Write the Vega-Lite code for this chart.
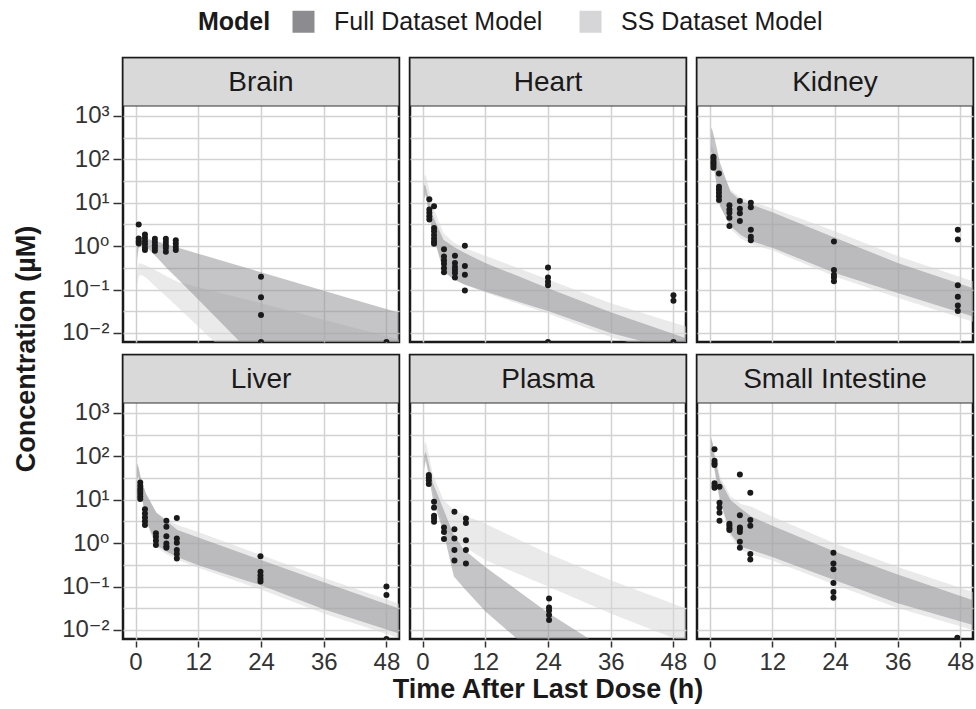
{
  "$schema": "https://vega.github.io/schema/vega-lite/v6.json",
  "padding": {"left": 12, "top": 9, "right": 0, "bottom": 2},
  "background": "white",
  "data": {"values": [
    {"tissue":"Brain","model":"SS Dataset Model","time":0,"lo":1e-5,"hi":1e-5},
    {"tissue":"Brain","model":"SS Dataset Model","time":0.3,"lo":0.12,"hi":0.25},
    {"tissue":"Brain","model":"SS Dataset Model","time":0.6,"lo":0.2,"hi":0.4},
    {"tissue":"Brain","model":"SS Dataset Model","time":1,"lo":0.22,"hi":0.4},
    {"tissue":"Brain","model":"SS Dataset Model","time":2,"lo":0.19,"hi":0.36},
    {"tissue":"Brain","model":"SS Dataset Model","time":4,"lo":0.112,"hi":0.27},
    {"tissue":"Brain","model":"SS Dataset Model","time":6,"lo":0.067,"hi":0.2},
    {"tissue":"Brain","model":"SS Dataset Model","time":8,"lo":0.04,"hi":0.15},
    {"tissue":"Brain","model":"SS Dataset Model","time":12,"lo":0.014,"hi":0.113},
    {"tissue":"Brain","model":"SS Dataset Model","time":24,"lo":0.0006,"hi":0.048},
    {"tissue":"Brain","model":"SS Dataset Model","time":36,"lo":0.00003,"hi":0.02},
    {"tissue":"Brain","model":"SS Dataset Model","time":50.4,"lo":0.000001,"hi":0.007},
    {"tissue":"Brain","model":"Full Dataset Model","time":0,"lo":1e-5,"hi":1e-5},
    {"tissue":"Brain","model":"Full Dataset Model","time":0.3,"lo":0.5,"hi":1.2},
    {"tissue":"Brain","model":"Full Dataset Model","time":0.6,"lo":0.9,"hi":1.6},
    {"tissue":"Brain","model":"Full Dataset Model","time":1,"lo":1.0,"hi":1.6},
    {"tissue":"Brain","model":"Full Dataset Model","time":2,"lo":0.98,"hi":1.5},
    {"tissue":"Brain","model":"Full Dataset Model","time":4,"lo":0.56,"hi":1.29},
    {"tissue":"Brain","model":"Full Dataset Model","time":6,"lo":0.31,"hi":1.09},
    {"tissue":"Brain","model":"Full Dataset Model","time":8,"lo":0.18,"hi":0.93},
    {"tissue":"Brain","model":"Full Dataset Model","time":12,"lo":0.059,"hi":0.67},
    {"tissue":"Brain","model":"Full Dataset Model","time":24,"lo":0.002,"hi":0.25},
    {"tissue":"Brain","model":"Full Dataset Model","time":36,"lo":0.00006,"hi":0.094},
    {"tissue":"Brain","model":"Full Dataset Model","time":50.4,"lo":0.000001,"hi":0.029},

    {"tissue":"Heart","model":"SS Dataset Model","time":0,"lo":1e-5,"hi":1e-5},
    {"tissue":"Heart","model":"SS Dataset Model","time":0.3,"lo":15,"hi":40},
    {"tissue":"Heart","model":"SS Dataset Model","time":0.6,"lo":18,"hi":44},
    {"tissue":"Heart","model":"SS Dataset Model","time":1,"lo":10,"hi":28},
    {"tissue":"Heart","model":"SS Dataset Model","time":2,"lo":2.2,"hi":8},
    {"tissue":"Heart","model":"SS Dataset Model","time":4,"lo":0.28,"hi":2.0},
    {"tissue":"Heart","model":"SS Dataset Model","time":6,"lo":0.17,"hi":1.2},
    {"tissue":"Heart","model":"SS Dataset Model","time":8,"lo":0.13,"hi":0.9},
    {"tissue":"Heart","model":"SS Dataset Model","time":12,"lo":0.085,"hi":0.6},
    {"tissue":"Heart","model":"SS Dataset Model","time":24,"lo":0.028,"hi":0.17},
    {"tissue":"Heart","model":"SS Dataset Model","time":36,"lo":0.008,"hi":0.048},
    {"tissue":"Heart","model":"SS Dataset Model","time":50.4,"lo":0.0025,"hi":0.014},
    {"tissue":"Heart","model":"Full Dataset Model","time":0,"lo":1e-5,"hi":1e-5},
    {"tissue":"Heart","model":"Full Dataset Model","time":0.3,"lo":12,"hi":26},
    {"tissue":"Heart","model":"Full Dataset Model","time":0.6,"lo":15,"hi":24},
    {"tissue":"Heart","model":"Full Dataset Model","time":1,"lo":8,"hi":15},
    {"tissue":"Heart","model":"Full Dataset Model","time":2,"lo":1.8,"hi":4.9},
    {"tissue":"Heart","model":"Full Dataset Model","time":4,"lo":0.26,"hi":1.4},
    {"tissue":"Heart","model":"Full Dataset Model","time":6,"lo":0.17,"hi":0.95},
    {"tissue":"Heart","model":"Full Dataset Model","time":8,"lo":0.13,"hi":0.7},
    {"tissue":"Heart","model":"Full Dataset Model","time":12,"lo":0.09,"hi":0.41},
    {"tissue":"Heart","model":"Full Dataset Model","time":24,"lo":0.032,"hi":0.107},
    {"tissue":"Heart","model":"Full Dataset Model","time":36,"lo":0.01,"hi":0.03},
    {"tissue":"Heart","model":"Full Dataset Model","time":50.4,"lo":0.0035,"hi":0.0075},

    {"tissue":"Kidney","model":"SS Dataset Model","time":0,"lo":1e-5,"hi":1e-5},
    {"tissue":"Kidney","model":"SS Dataset Model","time":0.3,"lo":80,"hi":200},
    {"tissue":"Kidney","model":"SS Dataset Model","time":0.6,"lo":90,"hi":190},
    {"tissue":"Kidney","model":"SS Dataset Model","time":1,"lo":50,"hi":140},
    {"tissue":"Kidney","model":"SS Dataset Model","time":2,"lo":9,"hi":60},
    {"tissue":"Kidney","model":"SS Dataset Model","time":4,"lo":2.5,"hi":20},
    {"tissue":"Kidney","model":"SS Dataset Model","time":6,"lo":1.5,"hi":13},
    {"tissue":"Kidney","model":"SS Dataset Model","time":8,"lo":1.1,"hi":10.5},
    {"tissue":"Kidney","model":"SS Dataset Model","time":12,"lo":0.8,"hi":7.5},
    {"tissue":"Kidney","model":"SS Dataset Model","time":24,"lo":0.2,"hi":2.2},
    {"tissue":"Kidney","model":"SS Dataset Model","time":36,"lo":0.065,"hi":0.59},
    {"tissue":"Kidney","model":"SS Dataset Model","time":50.4,"lo":0.018,"hi":0.155},
    {"tissue":"Kidney","model":"Full Dataset Model","time":0,"lo":1e-5,"hi":1e-5},
    {"tissue":"Kidney","model":"Full Dataset Model","time":0.3,"lo":150,"hi":540},
    {"tissue":"Kidney","model":"Full Dataset Model","time":0.6,"lo":120,"hi":450},
    {"tissue":"Kidney","model":"Full Dataset Model","time":1,"lo":49,"hi":290},
    {"tissue":"Kidney","model":"Full Dataset Model","time":2,"lo":8.3,"hi":84},
    {"tissue":"Kidney","model":"Full Dataset Model","time":4,"lo":2.9,"hi":18},
    {"tissue":"Kidney","model":"Full Dataset Model","time":6,"lo":1.8,"hi":11},
    {"tissue":"Kidney","model":"Full Dataset Model","time":8,"lo":1.3,"hi":9.1},
    {"tissue":"Kidney","model":"Full Dataset Model","time":12,"lo":0.92,"hi":6.0},
    {"tissue":"Kidney","model":"Full Dataset Model","time":24,"lo":0.24,"hi":1.55},
    {"tissue":"Kidney","model":"Full Dataset Model","time":36,"lo":0.083,"hi":0.41},
    {"tissue":"Kidney","model":"Full Dataset Model","time":50.4,"lo":0.024,"hi":0.107},

    {"tissue":"Liver","model":"SS Dataset Model","time":0,"lo":1e-5,"hi":1e-5},
    {"tissue":"Liver","model":"SS Dataset Model","time":0.3,"lo":25,"hi":60},
    {"tissue":"Liver","model":"SS Dataset Model","time":0.6,"lo":30,"hi":50},
    {"tissue":"Liver","model":"SS Dataset Model","time":1,"lo":15,"hi":30},
    {"tissue":"Liver","model":"SS Dataset Model","time":2,"lo":3.0,"hi":13},
    {"tissue":"Liver","model":"SS Dataset Model","time":4,"lo":0.8,"hi":5.0},
    {"tissue":"Liver","model":"SS Dataset Model","time":6,"lo":0.55,"hi":3.5},
    {"tissue":"Liver","model":"SS Dataset Model","time":8,"lo":0.42,"hi":2.6},
    {"tissue":"Liver","model":"SS Dataset Model","time":12,"lo":0.27,"hi":1.8},
    {"tissue":"Liver","model":"SS Dataset Model","time":24,"lo":0.085,"hi":0.53},
    {"tissue":"Liver","model":"SS Dataset Model","time":36,"lo":0.024,"hi":0.16},
    {"tissue":"Liver","model":"SS Dataset Model","time":50.4,"lo":0.0065,"hi":0.04},
    {"tissue":"Liver","model":"Full Dataset Model","time":0,"lo":1e-5,"hi":1e-5},
    {"tissue":"Liver","model":"Full Dataset Model","time":0.3,"lo":30,"hi":69},
    {"tissue":"Liver","model":"Full Dataset Model","time":0.6,"lo":35,"hi":55},
    {"tissue":"Liver","model":"Full Dataset Model","time":1,"lo":17,"hi":32},
    {"tissue":"Liver","model":"Full Dataset Model","time":2,"lo":3.4,"hi":14},
    {"tissue":"Liver","model":"Full Dataset Model","time":4,"lo":0.9,"hi":5.0},
    {"tissue":"Liver","model":"Full Dataset Model","time":6,"lo":0.63,"hi":3.2},
    {"tissue":"Liver","model":"Full Dataset Model","time":8,"lo":0.48,"hi":2.0},
    {"tissue":"Liver","model":"Full Dataset Model","time":12,"lo":0.31,"hi":1.35},
    {"tissue":"Liver","model":"Full Dataset Model","time":24,"lo":0.107,"hi":0.41},
    {"tissue":"Liver","model":"Full Dataset Model","time":36,"lo":0.03,"hi":0.126},
    {"tissue":"Liver","model":"Full Dataset Model","time":50.4,"lo":0.0083,"hi":0.031},

    {"tissue":"Plasma","model":"SS Dataset Model","time":0,"lo":1e-5,"hi":1e-5},
    {"tissue":"Plasma","model":"SS Dataset Model","time":0.3,"lo":90,"hi":180},
    {"tissue":"Plasma","model":"SS Dataset Model","time":0.6,"lo":110,"hi":218},
    {"tissue":"Plasma","model":"SS Dataset Model","time":1,"lo":60,"hi":140},
    {"tissue":"Plasma","model":"SS Dataset Model","time":2,"lo":15,"hi":37},
    {"tissue":"Plasma","model":"SS Dataset Model","time":4,"lo":2.4,"hi":9.8},
    {"tissue":"Plasma","model":"SS Dataset Model","time":6,"lo":1.2,"hi":5.8},
    {"tissue":"Plasma","model":"SS Dataset Model","time":8,"lo":0.82,"hi":4.4},
    {"tissue":"Plasma","model":"SS Dataset Model","time":12,"lo":0.41,"hi":2.8},
    {"tissue":"Plasma","model":"SS Dataset Model","time":24,"lo":0.1,"hi":0.58},
    {"tissue":"Plasma","model":"SS Dataset Model","time":36,"lo":0.024,"hi":0.14},
    {"tissue":"Plasma","model":"SS Dataset Model","time":50.4,"lo":0.005,"hi":0.031},
    {"tissue":"Plasma","model":"Full Dataset Model","time":0,"lo":1e-5,"hi":1e-5},
    {"tissue":"Plasma","model":"Full Dataset Model","time":0.3,"lo":50,"hi":100},
    {"tissue":"Plasma","model":"Full Dataset Model","time":0.6,"lo":80,"hi":128},
    {"tissue":"Plasma","model":"Full Dataset Model","time":1,"lo":48,"hi":83},
    {"tissue":"Plasma","model":"Full Dataset Model","time":2,"lo":9.8,"hi":24},
    {"tissue":"Plasma","model":"Full Dataset Model","time":4,"lo":1.8,"hi":6},
    {"tissue":"Plasma","model":"Full Dataset Model","time":6,"lo":0.17,"hi":1.5},
    {"tissue":"Plasma","model":"Full Dataset Model","time":8,"lo":0.09,"hi":0.69},
    {"tissue":"Plasma","model":"Full Dataset Model","time":12,"lo":0.027,"hi":0.28},
    {"tissue":"Plasma","model":"Full Dataset Model","time":24,"lo":0.0015,"hi":0.025},
    {"tissue":"Plasma","model":"Full Dataset Model","time":36,"lo":0.0001,"hi":0.003},
    {"tissue":"Plasma","model":"Full Dataset Model","time":50.4,"lo":0.00001,"hi":0.0002},

    {"tissue":"Small Intestine","model":"SS Dataset Model","time":0,"lo":1e-5,"hi":1e-5},
    {"tissue":"Small Intestine","model":"SS Dataset Model","time":0.3,"lo":90,"hi":250},
    {"tissue":"Small Intestine","model":"SS Dataset Model","time":0.6,"lo":80,"hi":200},
    {"tissue":"Small Intestine","model":"SS Dataset Model","time":1,"lo":40,"hi":110},
    {"tissue":"Small Intestine","model":"SS Dataset Model","time":2,"lo":8,"hi":35},
    {"tissue":"Small Intestine","model":"SS Dataset Model","time":4,"lo":1.4,"hi":12},
    {"tissue":"Small Intestine","model":"SS Dataset Model","time":6,"lo":0.7,"hi":8},
    {"tissue":"Small Intestine","model":"SS Dataset Model","time":8,"lo":0.55,"hi":6.9},
    {"tissue":"Small Intestine","model":"SS Dataset Model","time":12,"lo":0.4,"hi":4.1},
    {"tissue":"Small Intestine","model":"SS Dataset Model","time":24,"lo":0.11,"hi":0.98},
    {"tissue":"Small Intestine","model":"SS Dataset Model","time":36,"lo":0.032,"hi":0.28},
    {"tissue":"Small Intestine","model":"SS Dataset Model","time":50.4,"lo":0.01,"hi":0.075},
    {"tissue":"Small Intestine","model":"Full Dataset Model","time":0,"lo":1e-5,"hi":1e-5},
    {"tissue":"Small Intestine","model":"Full Dataset Model","time":0.3,"lo":100,"hi":280},
    {"tissue":"Small Intestine","model":"Full Dataset Model","time":0.6,"lo":90,"hi":200},
    {"tissue":"Small Intestine","model":"Full Dataset Model","time":1,"lo":48,"hi":98},
    {"tissue":"Small Intestine","model":"Full Dataset Model","time":2,"lo":9.8,"hi":28},
    {"tissue":"Small Intestine","model":"Full Dataset Model","time":4,"lo":1.67,"hi":9.8},
    {"tissue":"Small Intestine","model":"Full Dataset Model","time":6,"lo":0.83,"hi":6.3},
    {"tissue":"Small Intestine","model":"Full Dataset Model","time":8,"lo":0.69,"hi":4.1},
    {"tissue":"Small Intestine","model":"Full Dataset Model","time":12,"lo":0.48,"hi":2.5},
    {"tissue":"Small Intestine","model":"Full Dataset Model","time":24,"lo":0.14,"hi":0.63},
    {"tissue":"Small Intestine","model":"Full Dataset Model","time":36,"lo":0.041,"hi":0.19},
    {"tissue":"Small Intestine","model":"Full Dataset Model","time":50.4,"lo":0.013,"hi":0.048},

    {"tissue":"Brain","time":0.6,"conc":3.16},{"tissue":"Brain","time":0.6,"conc":1.5},{"tissue":"Brain","time":0.6,"conc":1.3},{"tissue":"Brain","time":0.6,"conc":1.15},
    {"tissue":"Brain","time":1.8,"conc":1.86},{"tissue":"Brain","time":1.8,"conc":1.55},{"tissue":"Brain","time":1.8,"conc":1.3},{"tissue":"Brain","time":1.8,"conc":1.1},{"tissue":"Brain","time":1.8,"conc":0.92},{"tissue":"Brain","time":1.8,"conc":0.81},
    {"tissue":"Brain","time":3.7,"conc":1.48},{"tissue":"Brain","time":3.7,"conc":1.25},{"tissue":"Brain","time":3.7,"conc":1.05},{"tissue":"Brain","time":3.7,"conc":0.9},{"tissue":"Brain","time":3.7,"conc":0.78},
    {"tissue":"Brain","time":5.8,"conc":1.48},{"tissue":"Brain","time":5.8,"conc":1.25},{"tissue":"Brain","time":5.8,"conc":1.05},{"tissue":"Brain","time":5.8,"conc":0.9},{"tissue":"Brain","time":5.8,"conc":0.74},
    {"tissue":"Brain","time":7.7,"conc":1.37},{"tissue":"Brain","time":7.7,"conc":1.15},{"tissue":"Brain","time":7.7,"conc":0.97},{"tissue":"Brain","time":7.7,"conc":0.81},
    {"tissue":"Brain","time":24,"conc":0.196},{"tissue":"Brain","time":24,"conc":0.066},{"tissue":"Brain","time":24,"conc":0.026},{"tissue":"Brain","time":24,"conc":0.0062},
    {"tissue":"Brain","time":48,"conc":0.0062},

    {"tissue":"Heart","time":1.3,"conc":12},{"tissue":"Heart","time":1.3,"conc":7.0},{"tissue":"Heart","time":1.3,"conc":5.9},{"tissue":"Heart","time":1.3,"conc":4.9},{"tissue":"Heart","time":1.3,"conc":4.1},
    {"tissue":"Heart","time":2.2,"conc":8.3},{"tissue":"Heart","time":2.2,"conc":2.6},{"tissue":"Heart","time":2.2,"conc":2.2},{"tissue":"Heart","time":2.2,"conc":1.8},{"tissue":"Heart","time":2.2,"conc":1.5},{"tissue":"Heart","time":2.2,"conc":1.28},{"tissue":"Heart","time":2.2,"conc":1.13},
    {"tissue":"Heart","time":4.1,"conc":0.85},{"tissue":"Heart","time":4.1,"conc":0.58},{"tissue":"Heart","time":4.1,"conc":0.47},{"tissue":"Heart","time":4.1,"conc":0.39},{"tissue":"Heart","time":4.1,"conc":0.31},{"tissue":"Heart","time":4.1,"conc":0.25},
    {"tissue":"Heart","time":6.2,"conc":0.6},{"tissue":"Heart","time":6.2,"conc":0.41},{"tissue":"Heart","time":6.2,"conc":0.33},{"tissue":"Heart","time":6.2,"conc":0.28},{"tissue":"Heart","time":6.2,"conc":0.24},{"tissue":"Heart","time":6.2,"conc":0.19},
    {"tissue":"Heart","time":8.1,"conc":1.02},{"tissue":"Heart","time":8.1,"conc":0.35},{"tissue":"Heart","time":8.1,"conc":0.22},{"tissue":"Heart","time":8.1,"conc":0.095},
    {"tissue":"Heart","time":24,"conc":0.32},{"tissue":"Heart","time":24,"conc":0.19},{"tissue":"Heart","time":24,"conc":0.15},{"tissue":"Heart","time":24,"conc":0.125},{"tissue":"Heart","time":24,"conc":0.0062},
    {"tissue":"Heart","time":48,"conc":0.074},{"tissue":"Heart","time":48,"conc":0.055},{"tissue":"Heart","time":48,"conc":0.0062},

    {"tissue":"Kidney","time":0.75,"conc":115},{"tissue":"Kidney","time":0.75,"conc":104},{"tissue":"Kidney","time":0.75,"conc":91},{"tissue":"Kidney","time":0.75,"conc":81},{"tissue":"Kidney","time":0.75,"conc":72},{"tissue":"Kidney","time":0.75,"conc":64},
    {"tissue":"Kidney","time":1.8,"conc":47},{"tissue":"Kidney","time":1.8,"conc":23.4},{"tissue":"Kidney","time":1.8,"conc":20.3},{"tissue":"Kidney","time":1.8,"conc":17},{"tissue":"Kidney","time":1.8,"conc":14.2},{"tissue":"Kidney","time":1.8,"conc":11.5},
    {"tissue":"Kidney","time":3.8,"conc":8.7},{"tissue":"Kidney","time":3.8,"conc":7.0},{"tissue":"Kidney","time":3.8,"conc":5.9},{"tissue":"Kidney","time":3.8,"conc":4.5},{"tissue":"Kidney","time":3.8,"conc":2.9},
    {"tissue":"Kidney","time":5.8,"conc":11},{"tissue":"Kidney","time":5.8,"conc":7.3},{"tissue":"Kidney","time":5.8,"conc":5.7},{"tissue":"Kidney","time":5.8,"conc":3.8},
    {"tissue":"Kidney","time":7.9,"conc":10},{"tissue":"Kidney","time":7.9,"conc":7.9},{"tissue":"Kidney","time":7.9,"conc":2.4},{"tissue":"Kidney","time":7.9,"conc":1.64},{"tissue":"Kidney","time":7.9,"conc":1.37},
    {"tissue":"Kidney","time":23.8,"conc":1.28},{"tissue":"Kidney","time":23.8,"conc":0.28},{"tissue":"Kidney","time":23.8,"conc":0.22},{"tissue":"Kidney","time":23.8,"conc":0.19},{"tissue":"Kidney","time":23.8,"conc":0.155},
    {"tissue":"Kidney","time":47.5,"conc":2.4},{"tissue":"Kidney","time":47.5,"conc":1.42},{"tissue":"Kidney","time":47.5,"conc":0.126},{"tissue":"Kidney","time":47.5,"conc":0.068},{"tissue":"Kidney","time":47.5,"conc":0.043},{"tissue":"Kidney","time":47.5,"conc":0.032},

    {"tissue":"Liver","time":0.9,"conc":25},{"tissue":"Liver","time":0.9,"conc":21},{"tissue":"Liver","time":0.9,"conc":18},{"tissue":"Liver","time":0.9,"conc":16},{"tissue":"Liver","time":0.9,"conc":14},{"tissue":"Liver","time":0.9,"conc":12},{"tissue":"Liver","time":0.9,"conc":10.4},
    {"tissue":"Liver","time":1.8,"conc":6.0},{"tissue":"Liver","time":1.8,"conc":4.8},{"tissue":"Liver","time":1.8,"conc":3.9},{"tissue":"Liver","time":1.8,"conc":3.2},{"tissue":"Liver","time":1.8,"conc":2.6},
    {"tissue":"Liver","time":3.9,"conc":1.7},{"tissue":"Liver","time":3.9,"conc":1.4},{"tissue":"Liver","time":3.9,"conc":1.13},{"tissue":"Liver","time":3.9,"conc":0.9},
    {"tissue":"Liver","time":5.9,"conc":3.3},{"tissue":"Liver","time":5.9,"conc":2.4},{"tissue":"Liver","time":5.9,"conc":1.45},{"tissue":"Liver","time":5.9,"conc":0.98},{"tissue":"Liver","time":5.9,"conc":0.85},{"tissue":"Liver","time":5.9,"conc":0.78},
    {"tissue":"Liver","time":7.9,"conc":3.8},{"tissue":"Liver","time":7.9,"conc":1.28},{"tissue":"Liver","time":7.9,"conc":1.02},{"tissue":"Liver","time":7.9,"conc":0.69},{"tissue":"Liver","time":7.9,"conc":0.56},{"tissue":"Liver","time":7.9,"conc":0.44},
    {"tissue":"Liver","time":23.9,"conc":0.5},{"tissue":"Liver","time":23.9,"conc":0.22},{"tissue":"Liver","time":23.9,"conc":0.18},{"tissue":"Liver","time":23.9,"conc":0.15},{"tissue":"Liver","time":23.9,"conc":0.13},
    {"tissue":"Liver","time":48,"conc":0.1},{"tissue":"Liver","time":48,"conc":0.064},{"tissue":"Liver","time":48,"conc":0.0062},

    {"tissue":"Plasma","time":1.2,"conc":37},{"tissue":"Plasma","time":1.2,"conc":33},{"tissue":"Plasma","time":1.2,"conc":28},{"tissue":"Plasma","time":1.2,"conc":23},
    {"tissue":"Plasma","time":2.2,"conc":9.0},{"tissue":"Plasma","time":2.2,"conc":6.6},{"tissue":"Plasma","time":2.2,"conc":4.3},{"tissue":"Plasma","time":2.2,"conc":3.7},{"tissue":"Plasma","time":2.2,"conc":3.1},
    {"tissue":"Plasma","time":4.1,"conc":2.3},{"tissue":"Plasma","time":4.1,"conc":1.8},{"tissue":"Plasma","time":4.1,"conc":1.24},
    {"tissue":"Plasma","time":6.1,"conc":5.3},{"tissue":"Plasma","time":6.1,"conc":2.1},{"tissue":"Plasma","time":6.1,"conc":1.28},{"tissue":"Plasma","time":6.1,"conc":0.69},{"tissue":"Plasma","time":6.1,"conc":0.4},
    {"tissue":"Plasma","time":8.3,"conc":3.7},{"tissue":"Plasma","time":8.3,"conc":2.9},{"tissue":"Plasma","time":8.3,"conc":1.17},{"tissue":"Plasma","time":8.3,"conc":0.69},{"tissue":"Plasma","time":8.3,"conc":0.34},
    {"tissue":"Plasma","time":24.2,"conc":0.053},{"tissue":"Plasma","time":24.2,"conc":0.033},{"tissue":"Plasma","time":24.2,"conc":0.028},{"tissue":"Plasma","time":24.2,"conc":0.022},{"tissue":"Plasma","time":24.2,"conc":0.017},

    {"tissue":"Small Intestine","time":0.95,"conc":145},{"tissue":"Small Intestine","time":0.95,"conc":79},{"tissue":"Small Intestine","time":0.95,"conc":69},{"tissue":"Small Intestine","time":0.95,"conc":63},{"tissue":"Small Intestine","time":0.95,"conc":24},{"tissue":"Small Intestine","time":0.95,"conc":21},{"tissue":"Small Intestine","time":0.95,"conc":19},
    {"tissue":"Small Intestine","time":1.9,"conc":20},{"tissue":"Small Intestine","time":1.9,"conc":8.5},{"tissue":"Small Intestine","time":1.9,"conc":6.6},{"tissue":"Small Intestine","time":1.9,"conc":5.0},{"tissue":"Small Intestine","time":1.9,"conc":3.3},
    {"tissue":"Small Intestine","time":3.8,"conc":2.8},{"tissue":"Small Intestine","time":3.8,"conc":2.5},{"tissue":"Small Intestine","time":3.8,"conc":2.2},{"tissue":"Small Intestine","time":3.8,"conc":2.0},
    {"tissue":"Small Intestine","time":5.8,"conc":38},{"tissue":"Small Intestine","time":5.8,"conc":4.4},{"tissue":"Small Intestine","time":5.8,"conc":2.3},{"tissue":"Small Intestine","time":5.8,"conc":2.1},{"tissue":"Small Intestine","time":5.8,"conc":1.8},{"tissue":"Small Intestine","time":5.8,"conc":1.07},{"tissue":"Small Intestine","time":5.8,"conc":0.78},
    {"tissue":"Small Intestine","time":7.8,"conc":14.5},{"tissue":"Small Intestine","time":7.8,"conc":3.4},{"tissue":"Small Intestine","time":7.8,"conc":2.5},{"tissue":"Small Intestine","time":7.8,"conc":0.56},{"tissue":"Small Intestine","time":7.8,"conc":0.42},
    {"tissue":"Small Intestine","time":23.7,"conc":0.6},{"tissue":"Small Intestine","time":23.7,"conc":0.34},{"tissue":"Small Intestine","time":23.7,"conc":0.25},{"tissue":"Small Intestine","time":23.7,"conc":0.12},{"tissue":"Small Intestine","time":23.7,"conc":0.075},{"tissue":"Small Intestine","time":23.7,"conc":0.055},
    {"tissue":"Small Intestine","time":47.4,"conc":0.0066}
  ]},
  "transform": [
    {"calculate": "indexof(['Brain', 'Heart', 'Kidney'], datum.tissue) >= 0 ? 1 : 2", "as": "panelRow"},
    {"calculate": "indexof(['Brain', 'Liver'], datum.tissue) >= 0 ? 1 : indexof(['Heart', 'Plasma'], datum.tissue) >= 0 ? 2 : 3", "as": "panelCol"}
  ],
  "facet": {
    "row": {"field": "panelRow", "type": "ordinal", "title": "Concentration (µM)",
            "header": {"labels": false, "labelPadding": 0, "titleOrient": "left", "titleFontSize": 27, "titleFontWeight": "bold",
                       "titleFont": "Liberation Sans", "titleColor": "#1a1a1a", "titlePadding": 10}},
    "column": {"field": "panelCol", "type": "ordinal", "title": "Time After Last Dose (h)",
               "header": {"labels": false, "labelPadding": 0, "titleOrient": "bottom", "titleFontSize": 27, "titleFontWeight": "bold",
                          "titleFont": "Liberation Sans", "titleColor": "#1a1a1a", "titlePadding": -7}}
  },
  "spacing": {"row": 9, "column": 7},
  "spec": {
    "width": 276,
    "height": 284,
    "layer": [
      {
        "transform": [{"filter": "datum.model === 'SS Dataset Model'"}],
        "mark": {"type": "area", "clip": true, "fillOpacity": 0.5},
        "encoding": {
          "x": {"field": "time", "type": "quantitative",
                "scale": {"domain": [-2.4, 50.4], "nice": false, "zero": false},
                "axis": {"title": null, "values": [0, 6, 12, 18, 24, 30, 36, 42, 48],
                         "labelExpr": "datum.value % 12 === 0 ? datum.label : ''",
                         "tickOpacity": {"condition": {"test": "datum.value % 12 === 0", "value": 1}, "value": 0}}},
          "y": {"field": "hi", "type": "quantitative", "stack": null,
                "scale": {"type": "log", "domain": [0.00617, 21680], "nice": false},
                "axis": {"title": null,
                         "values": [0.01, 0.0316228, 0.1, 0.316228, 1, 3.16228, 10, 31.6228, 100, 316.228, 1000],
                         "labelExpr": "datum.value == 1000 ? '10³' : datum.value == 100 ? '10²' : datum.value == 10 ? '10¹' : datum.value == 1 ? '10⁰' : datum.value == 0.1 ? '10⁻¹' : datum.value == 0.01 ? '10⁻²' : ''",
                         "tickOpacity": {"condition": {"test": "indexof([0.01, 0.1, 1, 10, 100, 1000], datum.value) >= 0", "value": 1}, "value": 0}}},
          "y2": {"field": "lo"},
          "color": {"field": "model", "type": "nominal", "title": "Model",
                    "scale": {"domain": ["Full Dataset Model", "SS Dataset Model"], "range": ["#8c8c90", "#d6d6d8"]},
                    "legend": {"orient": "none", "legendX": 75, "legendY": -49, "direction": "horizontal", "titleOrient": "left",
                               "symbolType": "square", "symbolSize": 484, "symbolOpacity": 1, "symbolStrokeWidth": 0,
                               "labelFontSize": 25, "titleFontSize": 25, "titleFontWeight": "bold",
                               "labelFont": "Liberation Sans", "titleFont": "Liberation Sans",
                               "labelColor": "#1a1a1a", "titleColor": "#1a1a1a", "labelLimit": 0,
                               "columnPadding": 35, "labelOffset": 18, "titlePadding": 20}}
        }
      },
      {
        "transform": [{"filter": "datum.model === 'Full Dataset Model'"}],
        "mark": {"type": "area", "clip": true, "fillOpacity": 0.5},
        "encoding": {
          "x": {"field": "time", "type": "quantitative"},
          "y": {"field": "hi", "type": "quantitative", "stack": null},
          "y2": {"field": "lo"},
          "color": {"field": "model", "type": "nominal"}
        }
      },
      {
        "transform": [{"filter": "isValid(datum.conc)"}],
        "mark": {"type": "circle", "clip": true, "size": 36, "color": "#1a1a1a", "opacity": 1},
        "encoding": {
          "x": {"field": "time", "type": "quantitative"},
          "y": {"field": "conc", "type": "quantitative"}
        }
      },
      {
        "transform": [{"aggregate": [{"op": "count", "as": "n"}], "groupby": ["tissue"]}],
        "mark": {"type": "rect", "clip": true, "fill": "#d9d9d9", "stroke": "#333333", "strokeWidth": 1.2},
        "encoding": {
          "x": {"datum": -2.4}, "x2": {"datum": 50.4},
          "y": {"datum": 1698}, "y2": {"datum": 21680}
        }
      },
      {
        "transform": [{"aggregate": [{"op": "count", "as": "n"}], "groupby": ["tissue"]}],
        "mark": {"type": "text", "fontSize": 28, "font": "Liberation Sans", "color": "#1a1a1a", "baseline": "middle", "align": "center", "dy": 1},
        "encoding": {
          "x": {"datum": 24}, "y": {"datum": 6067},
          "text": {"field": "tissue"}
        }
      }
    ]
  },
  "config": {
    "view": {"stroke": "#1a1a1a", "strokeWidth": 2.5},
    "font": "Liberation Sans",
    "axis": {
      "grid": true, "gridColor": "#d2d2d2", "gridWidth": 1.5,
      "domain": false, "tickColor": "#333333", "tickWidth": 1.5, "tickSize": 8,
      "labelFont": "Liberation Sans, DejaVu Sans", "labelFontSize": 24, "labelColor": "#333333",
      "labelPadding": 4,
      "titleFont": "Liberation Sans", "titleFontSize": 27, "titleFontWeight": "bold", "titleColor": "#1a1a1a"
    },
    "axisX": {"labelPadding": 3, "labelFlush": false, "tickSize": 6},
    "axisY": {"labelFlush": false}
  }
}
